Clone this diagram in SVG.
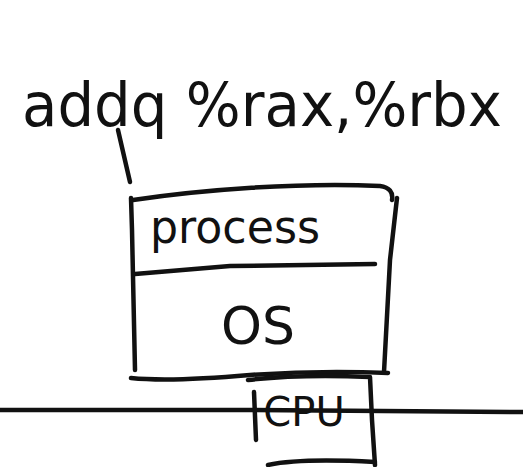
<svg xmlns="http://www.w3.org/2000/svg" width="523" height="467" viewBox="0 0 523 467">
<style>
.s{fill:none;stroke:#111;stroke-width:4.5;stroke-linecap:round;stroke-linejoin:round}
.t{font-family:"DejaVu Sans","Liberation Sans",sans-serif;fill:#111;text-anchor:middle}
</style>
<rect width="523" height="467" fill="#fff"/>
<g id="instruction">
<text class="t" x="262" y="126" font-size="60" textLength="480" lengthAdjust="spacingAndGlyphs">addq %rax,%rbx</text>
</g>
<g id="process-os">
<path class="s" d="M133,200 C200,190 300,182 380,186 Q394,188 392,200"/>
<path class="s" d="M131,198 L132,230 L135,370"/>
<path class="s" d="M397,198 L390,260 L384,372"/>
<path class="s" d="M131,378 Q170,382 250,375 Q320,370 388,373"/>
<path class="s" d="M135,274 L230,266 L375,264"/>
<text class="t" x="235" y="243" font-size="46" textLength="170" lengthAdjust="spacingAndGlyphs">process</text>
<text class="t" x="258" y="344" font-size="52">OS</text>
</g>
<g id="cpu">
<path class="s" d="M248,380 Q300,374 370,377 L372,420 L375,465"/>
<path class="s" d="M254,392 L256,440"/>
<path class="s" d="M268,465 Q300,458 375,462"/>
<text class="t" x="304" y="426" font-size="40">CPU</text>
</g>
<g id="connectors">
<path class="s" d="M118,130 L130,182"/>
<path class="s" d="M0,410 L250,410 L523,412"/>
</g>
</svg>
